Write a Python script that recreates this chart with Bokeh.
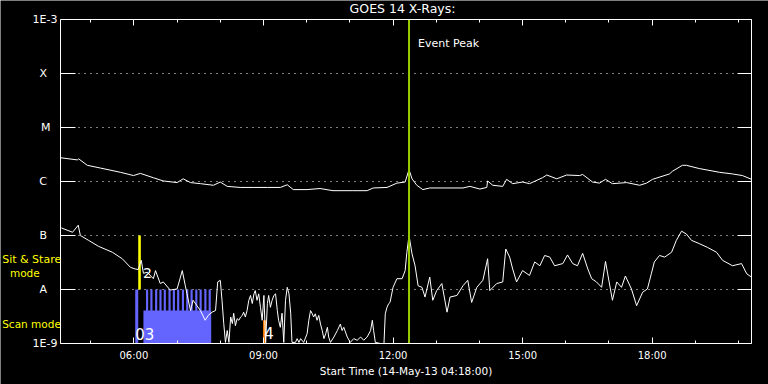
from bokeh.plotting import figure
from bokeh.models import Range1d, LinearAxis, FixedTicker, Label, ColumnDataSource
from bokeh.embed import file_html
from bokeh.resources import INLINE

# ---- data (time in decimal hours of 14-May-13, flux as log10 W/m^2) ----
long_t = [4.30, 4.69, 4.72, 4.92, 5.22, 5.69, 5.99, 6.15, 6.45, 6.68,
          7.00, 7.14, 7.31, 7.54, 7.84, 8.00, 8.16, 8.46, 8.76, 9.09,
          9.39, 9.55, 9.69, 10.01, 10.31, 10.61, 11.07, 11.40, 11.54, 11.86,
          12.09, 12.28, 12.37, 12.44, 12.55, 12.69, 12.85, 13.25, 13.62, 13.78,
          14.01, 14.17, 14.19, 14.31, 14.54, 14.63, 14.77, 15.00, 15.16, 15.46,
          15.56, 15.79, 16.02, 16.32, 16.39, 16.62, 16.78, 16.92, 17.08, 17.41,
          17.71, 17.87, 18.01, 18.40, 18.47, 18.70, 18.79, 19.09, 19.56, 19.86,
          20.09, 20.30]
long_f = [-5.56, -5.60, -5.58, -5.70, -5.75, -5.83, -5.89, -5.85, -5.93, -5.99,
          -6.02, -5.95, -6.02, -6.04, -6.07, -6.01, -6.09, -6.11, -6.11, -6.11,
          -6.11, -6.06, -6.15, -6.15, -6.13, -6.17, -6.17, -6.17, -6.12, -6.11,
          -6.03, -6.01, -5.78, -5.95, -6.07, -6.15, -6.12, -6.12, -6.12, -6.09,
          -6.14, -6.11, -5.99, -6.07, -6.09, -5.96, -6.04, -6.01, -6.04, -5.93,
          -5.88, -5.95, -5.88, -5.89, -5.87, -6.01, -6.03, -5.96, -6.04, -6.02,
          -6.07, -6.03, -5.96, -5.86, -5.81, -5.70, -5.70, -5.76, -5.83, -5.86,
          -5.89, -5.96]

short_t = [4.32, 4.58, 4.71, 4.76, 4.95, 5.18, 5.50, 5.73, 5.92, 6.03,
           6.10, 6.17, 6.22, 6.31, 6.45, 6.50, 6.61, 6.68, 6.84, 7.00,
           7.12, 7.19, 7.31, 7.37, 7.54, 7.65, 7.72, 7.81, 7.89, 7.94,
           8.00, 8.04, 8.08, 8.12, 8.16, 8.20, 8.24, 8.28, 8.31, 8.35,
           8.39, 8.43, 8.47, 8.51, 8.54, 8.58, 8.62, 8.66, 8.70, 8.74,
           8.78, 8.81, 8.85, 8.89, 8.93, 8.97, 9.01, 9.05, 9.09, 9.12,
           9.16, 9.20, 9.24, 9.28, 9.32, 9.35, 9.39, 9.43, 9.47, 9.51,
           9.55, 9.59, 9.63, 9.66, 9.74, 9.78, 9.82, 9.86, 9.93, 10.01,
           10.05, 10.09, 10.13, 10.16, 10.20, 10.24, 10.28, 10.32, 10.36, 10.40,
           10.44, 10.48, 10.51, 10.55, 10.63, 10.71, 10.78, 10.82, 10.86, 10.94,
           11.01, 11.09, 11.17, 11.25, 11.32, 11.40, 11.48, 11.52, 11.55, 11.59,
           11.71, 11.79, 11.82, 11.86, 11.90, 11.93, 12.00, 12.09, 12.21, 12.28,
           12.32, 12.37, 12.44, 12.51, 12.58, 12.67, 12.74, 12.85, 12.92, 13.01,
           13.13, 13.25, 13.32, 13.48, 13.62, 13.73, 13.82, 13.94, 14.08, 14.19,
           14.24, 14.40, 14.54, 14.61, 14.70, 14.77, 14.86, 15.00, 15.16, 15.28,
           15.40, 15.51, 15.63, 15.74, 15.93, 16.04, 16.16, 16.27, 16.39, 16.51,
           16.60, 16.71, 16.83, 16.92, 16.97, 17.08, 17.18, 17.29, 17.38, 17.52,
           17.64, 17.78, 17.89, 17.98, 18.05, 18.17, 18.29, 18.45, 18.56, 18.68,
           18.79, 18.91, 19.09, 19.28, 19.49, 19.63, 19.86, 20.07, 20.19, 20.30]
short_f = [-6.86, -6.94, -6.81, -7.00, -7.09, -7.20, -7.31, -7.43, -7.59, -7.62,
           -7.63, -7.46, -7.70, -7.68, -7.80, -7.65, -7.89, -7.86, -8.01, -7.99,
           -7.65, -7.93, -8.39, -8.20, -8.39, -8.57, -8.48, -8.42, -8.39, -7.86,
           -7.83, -8.20, -8.63, -8.98, -8.76, -8.98, -8.51, -8.63, -8.44, -8.67,
           -8.54, -8.57, -8.51, -8.48, -8.42, -8.51, -8.39, -8.20, -8.11, -8.26,
           -8.08, -8.02, -8.20, -8.08, -8.33, -8.57, -8.11, -8.98, -8.26, -8.11,
           -8.33, -8.20, -8.11, -8.08, -8.39, -8.57, -8.70, -8.44, -8.98, -8.20,
           -7.96, -8.08, -8.44, -8.98, -8.98, -8.91, -8.98, -8.91, -8.98, -8.82,
           -8.57, -8.39, -8.45, -8.51, -8.45, -8.57, -8.48, -8.64, -8.76, -8.91,
           -8.82, -8.70, -8.88, -8.98, -8.88, -8.76, -8.64, -8.76, -8.70, -8.88,
           -8.98, -8.91, -8.94, -8.88, -8.94, -8.88, -8.76, -8.57, -8.76, -8.98,
           -9.00, -9.00, -8.45, -8.33, -8.26, -8.24, -7.96, -7.80, -7.80, -7.65,
           -7.31, -7.00, -7.34, -7.56, -7.93, -7.96, -8.14, -7.77, -8.20, -8.02,
           -7.89, -8.42, -8.14, -8.11, -7.93, -7.83, -8.24, -7.96, -7.83, -7.43,
           -8.02, -7.89, -7.86, -7.25, -7.40, -7.62, -7.86, -7.65, -7.74, -7.49,
           -7.56, -7.37, -7.40, -7.56, -7.52, -7.36, -7.52, -7.56, -7.33, -7.62,
           -7.80, -7.86, -7.96, -7.48, -7.71, -8.20, -7.86, -7.96, -7.75, -7.99,
           -8.30, -8.05, -7.99, -7.71, -7.49, -7.37, -7.40, -7.31, -7.09, -6.92,
           -6.97, -7.09, -7.15, -7.22, -7.31, -7.46, -7.56, -7.52, -7.71, -7.77]

# scan-mode coverage (blue)
scan_start = [6.03, 6.22, 6.28, 6.38, 6.49, 6.59, 6.69, 6.80, 6.90, 7.00,
              7.11, 7.21, 7.31, 7.42, 7.52, 7.63, 7.73]
scan_end = [6.10, 7.79, 6.33, 6.43, 6.54, 6.64, 6.74, 6.85, 6.95, 7.05,
            7.16, 7.26, 7.36, 7.47, 7.57, 7.68, 7.78]
scan_top = [-8.0, -8.39, -8.0, -8.0, -8.0, -8.0, -8.0, -8.0, -8.0, -8.0,
            -8.0, -8.0, -8.0, -8.0, -8.0, -8.0, -8.0]
stare_start, stare_end, stare_bottom, stare_top = [6.10], [6.16], [-8.0], [-7.0]
other_start, other_end, other_top = [8.99], [9.06], [-8.57]
event_peak = 12.37

t_start, t_end = 4.3, 20.3     # 04:18 .. 20:18
f_min, f_max = -9, -3          # 1E-9 .. 1E-3
y_ticks = [-9, -8, -7, -6, -5, -4, -3]
y_labels = ["1E-9", "A", "B", "C", "M", "X", "1E-3"]
grid_ticks = [-8, -7, -6, -5, -4]
x_ticks = [6, 9, 12, 15, 18]
x_labels = ["06:00", "09:00", "12:00", "15:00", "18:00"]
x_minor = [5, 6, 7, 8, 9, 10, 11, 12, 13, 14, 15, 16, 17, 18, 19, 20]

FONT = "DejaVu Sans"
NB = "\u00a0"

# data area sits at 60..751 px horizontally and 19..343 px vertically of the 768x384 canvas
PX_H = 691 / (t_end - t_start)
PX_D = 324 / (f_max - f_min)
x_range = Range1d(t_start - 60 / PX_H, t_end + 17 / PX_H)
y_range = Range1d(f_min - 41 / PX_D, f_max + 19 / PX_D)

p = figure(width=768, height=384, output_backend="svg", toolbar_location=None,
           x_range=x_range, y_range=y_range,
           x_axis_location=None, y_axis_location=None,
           min_border=0, background_fill_color="black", border_fill_color="black",
           outline_line_color=None)
p.grid.visible = False

pad = {"1E-9": "", "1E-3": "", "M": NB * 2}
overrides_y = {t: lab + pad.get(lab, NB * 3) for t, lab in zip(y_ticks, y_labels)}

common = dict(axis_line_color="white", major_tick_line_color="white", minor_tick_line_color="white",
              major_label_text_color="white", major_label_text_font=FONT, major_tick_out=0,
              minor_tick_out=0)

left = LinearAxis(ticker=FixedTicker(ticks=y_ticks), major_label_overrides=overrides_y,
                  fixed_location=t_start, bounds=(f_min, f_max),
                  major_tick_in=15, major_label_text_font_size="11px", major_label_standoff=3, **common)
right = LinearAxis(ticker=FixedTicker(ticks=y_ticks), fixed_location=t_end, bounds=(f_min, f_max),
                   major_tick_in=14, major_label_text_font_size="0px", major_label_standoff=0, **common)
right.major_label_text_color = None
bottom = LinearAxis(ticker=FixedTicker(ticks=x_ticks, minor_ticks=x_minor),
                    fixed_location=f_min, bounds=(t_start, t_end),
                    major_label_overrides=dict(zip(x_ticks, x_labels)),
                    major_tick_in=6, minor_tick_in=3, major_label_text_font_size="10px",
                    major_label_standoff=6, axis_label="Start Time (14-May-13 04:18:00)",
                    axis_label_text_color="white", axis_label_text_font=FONT,
                    axis_label_text_font_size="10.5px", axis_label_text_font_style="normal",
                    axis_label_standoff=1, **common)
top = LinearAxis(ticker=FixedTicker(ticks=x_ticks, minor_ticks=x_minor), fixed_location=f_max,
                 bounds=(t_start, t_end), major_tick_in=6, minor_tick_in=3,
                 major_label_text_font_size="0px", major_label_standoff=0, **common)
top.major_label_text_color = None
p.add_layout(left, "left")
p.add_layout(right, "right")
p.add_layout(bottom, "below")
p.add_layout(top, "above")

# dotted horizontal grid at each GOES class level
n = len(grid_ticks)
p.segment(x0=[t_start] * n, x1=[t_end] * n, y0=grid_ticks, y1=grid_ticks,
          line_color="white", line_dash="1 5", line_width=1)

scan_src = ColumnDataSource(dict(left=scan_start, right=scan_end, top=scan_top,
                                 bottom=[f_min] * len(scan_start)))
p.quad(left="left", right="right", top="top", bottom="bottom", source=scan_src,
       fill_color="#6464ff", line_color=None)
p.quad(left=stare_start, right=stare_end, top=stare_top, bottom=stare_bottom,
       fill_color="#ffff00", line_color=None)
p.quad(left=other_start, right=other_end, top=other_top, bottom=[f_min],
       fill_color="#ff8000", line_color=None)

p.line(long_t, long_f, line_color="white", line_width=1)
p.line(short_t, short_f, line_color="white", line_width=1)

p.segment(x0=[event_peak], x1=[event_peak], y0=[f_min], y1=[f_max],
          line_color="#99cc00", line_width=2)

def lab(x, y, text, color="white", size="11px", align="left"):
    p.add_layout(Label(x=x, y=y, text=text, text_color=color, text_font=FONT,
                       text_font_size=size, text_align=align, text_baseline="middle"))

lab(12.22, -2.80, "GOES 14 X-Rays:", size="12.5px", align="center")
lab(12.58, -3.44, "Event Peak", size="11px")
lab(2.95, -7.45, "Sit & Stare", color="#ffff00", size="11px")
lab(3.13, -7.69, "mode", color="#ffff00", size="10.5px")
lab(2.95, -8.64, "Scan mode", color="#ffff00", size="10.5px")
lab(6.03, -8.82, "03", size="15px")
lab(6.21, -7.70, "2", size="14px")
lab(9.02, -8.81, "4", size="15px")

open("out.html", "w").write(file_html(p, INLINE))
